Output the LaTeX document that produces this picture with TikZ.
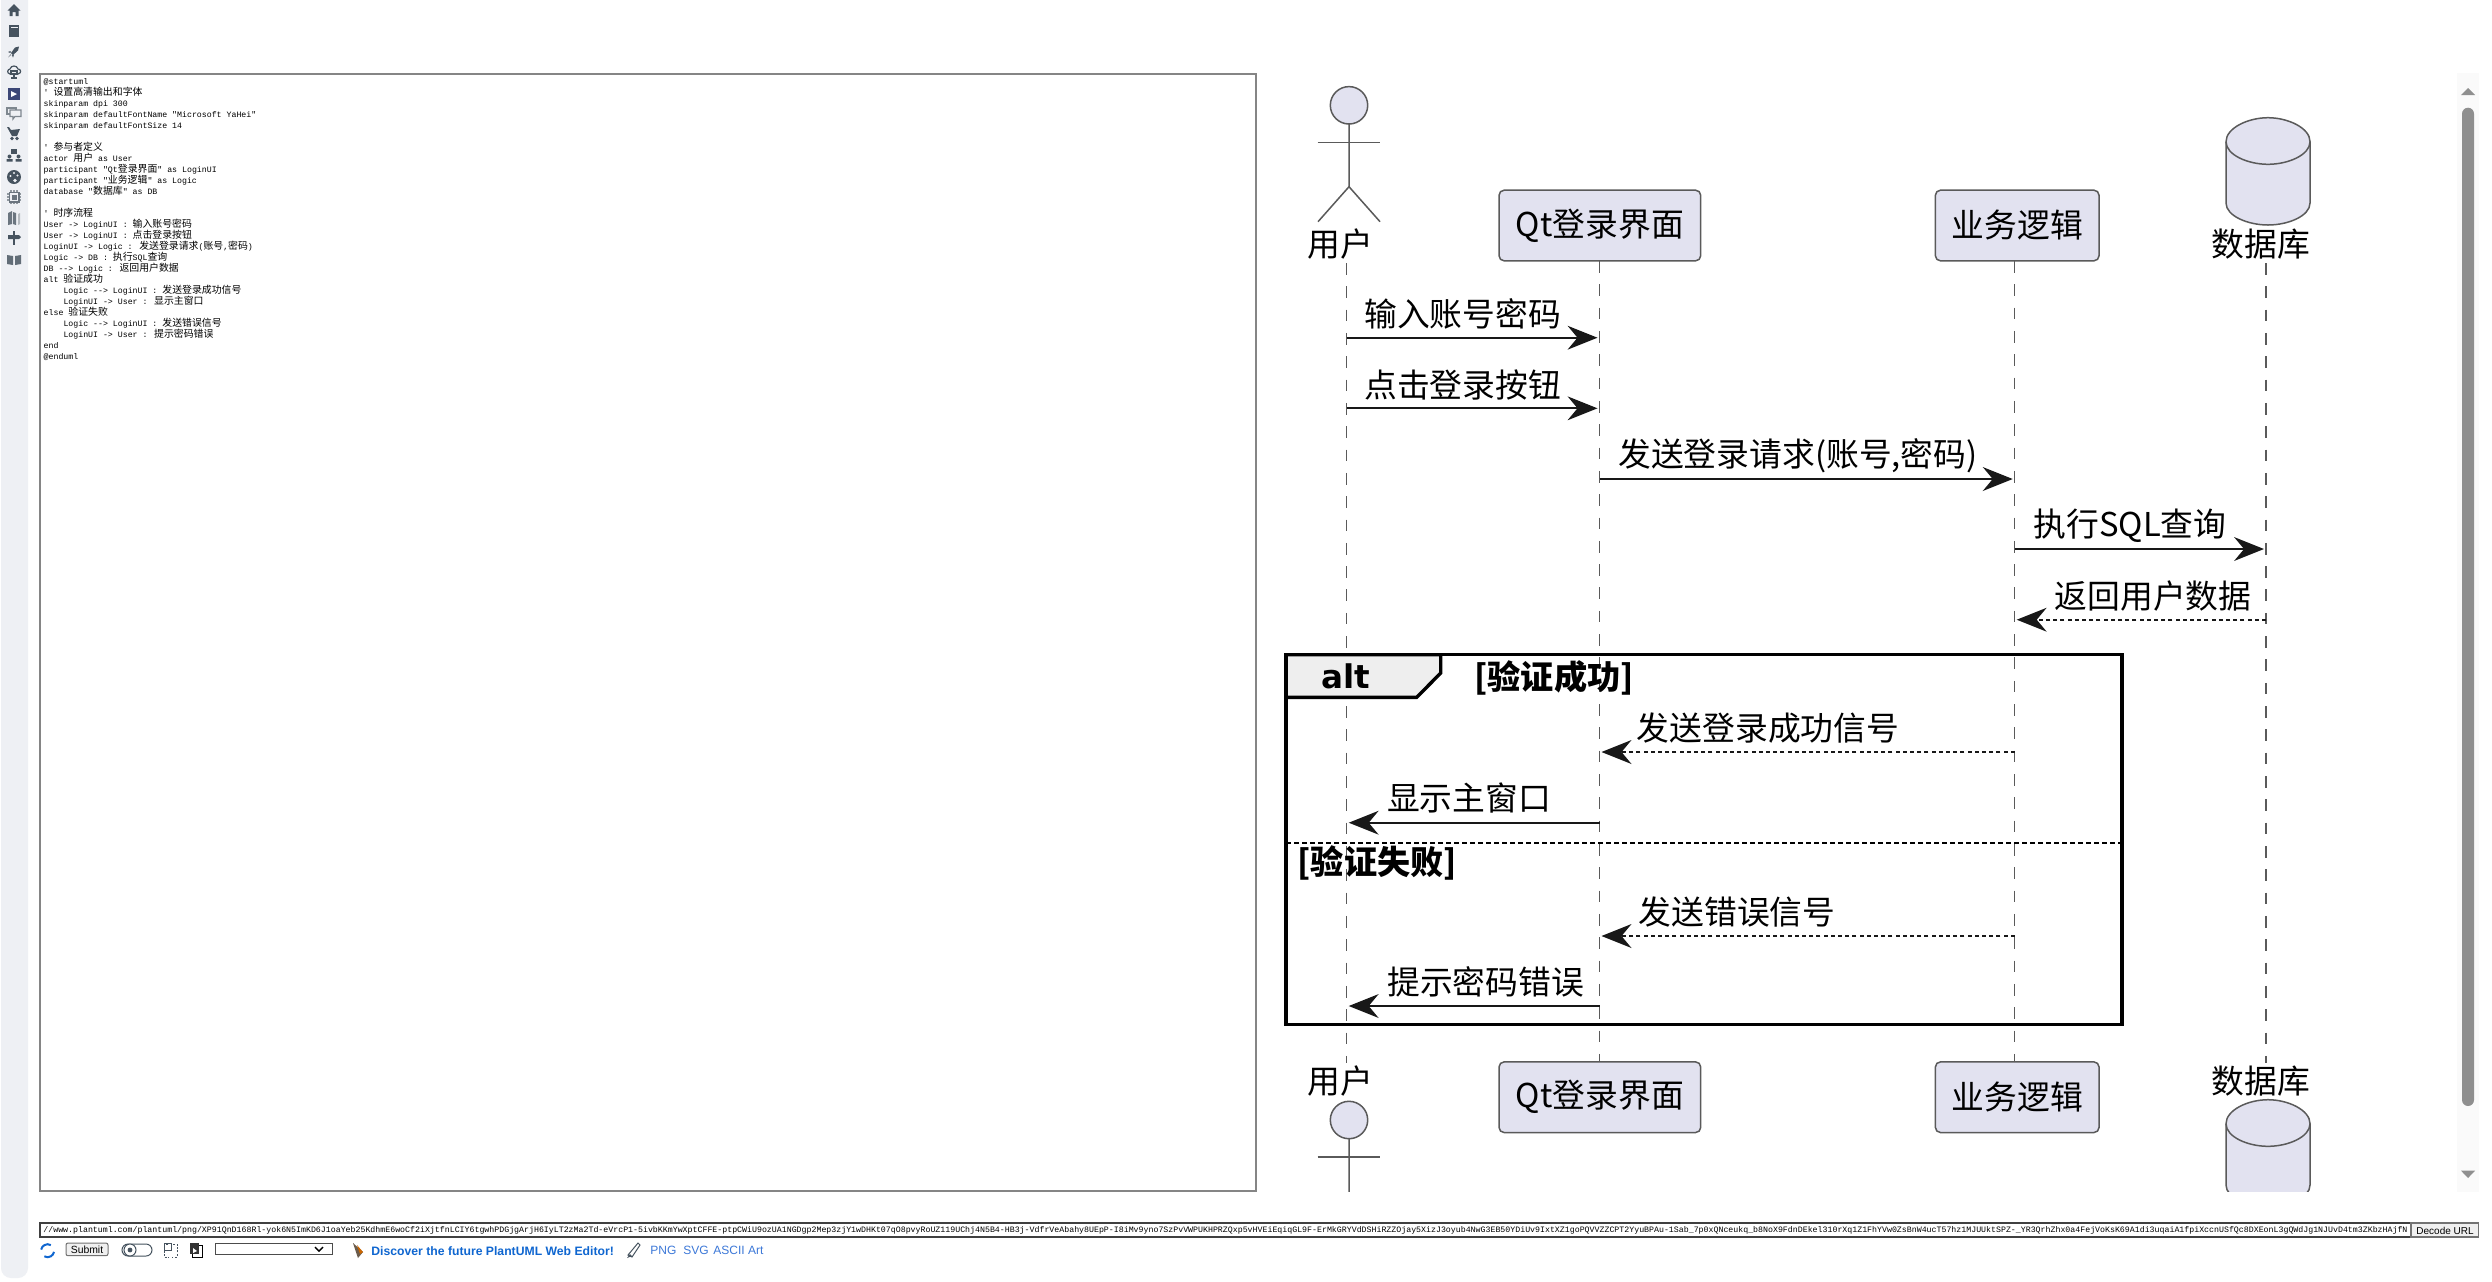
\documentclass[tikz,border=0pt]{standalone}
\usepackage{fontspec}
\usetikzlibrary{arrows.meta}
\setmainfont{Noto Sans CJK SC}
\newfontfamily\cjk{Noto Sans CJK SC}
\newfontfamily\dvb{DejaVu Sans Bold}
\newfontfamily\lmono{Liberation Mono}
\newfontfamily\lsans{Liberation Sans}
\newcommand{\zh}[1]{{\cjk\fontsize{4.94}{5.5}\selectfont #1}}
\newcommand{\ind}{\hspace*{9.9pt}}
\definecolor{partfill}{HTML}{E2E2F0}
\definecolor{ink}{HTML}{181818}
\definecolor{lifegrey}{HTML}{5A5A5A}
\definecolor{tabfill}{HTML}{EEEEEE}
\definecolor{sidebar}{HTML}{EEF0F4}
\definecolor{iconc}{HTML}{46535F}
\definecolor{linkblue}{HTML}{0F66D0}
\definecolor{linkblue2}{HTML}{3C78D8}
\tikzset{
  part/.style={draw=lifegrey,fill=partfill,line width=.75pt,rounded corners=2.5pt,minimum width=100.8pt,minimum height=35.3pt,inner sep=0pt,font=\fontsize{16.4}{18}\selectfont,text=black},
  plabel/.style={inner sep=0pt,font=\fontsize{16.4}{18}\selectfont,text=black},
  msgtxt/.style={inner sep=0pt,font=\fontsize{16.4}{18}\selectfont,text=black},
  grdtxt/.style={inner sep=0pt,font=\bfseries\fontsize{16.6}{18}\selectfont,text=black},
  lifeline/.style={draw=lifegrey,line width=.75pt,dash pattern=on 5.83pt off 5.83pt},
  msg/.style={draw=ink,line width=1pt,-{Stealth[length=15pt,width=12pt,inset=5pt,line width=0pt]},shorten >=1pt},
  msgd/.style={msg,dash pattern=on 2pt off 1.6pt},
  figure/.style={draw=lifegrey,line width=.75pt,fill=partfill},
  stick/.style={draw=lifegrey,line width=.75pt},
  frameline/.style={draw=black,line width=1.7pt},
  uitext/.style={inner sep=0pt,anchor=west,font=\lsans\fontsize{5.2}{6}\selectfont},
  icon/.style={fill=iconc,draw=none},
  iconl/.style={draw=iconc,line width=.6pt,fill=none},
}
\begin{document}
\begin{tikzpicture}[x=0.5pt,y=-0.5pt]
\useasboundingbox (0,0) rectangle (2492,1281);
\fill[white] (0,0) rectangle (2492,1281);

% ---- sidebar
\fill[sidebar,rounded corners=5pt] (1,-20) rectangle (28,1278);
\begin{scope}[shift={(14,10)}]
 \fill[icon] (-6.5,0.5)--(0,-6)--(6.5,0.5)--(4.5,0.5)--(4.5,6)--(1.5,6)--(1.5,2)--(-1.5,2)--(-1.5,6)--(-4.5,6)--(-4.5,0.5)--cycle;
\end{scope}
\begin{scope}[shift={(14,30.5)}]
 \fill[icon] (-5,-6) rectangle (5,6.5);
 \fill[sidebar] (-3.5,-3.5) rectangle (3.5,-2.5);
\end{scope}
\begin{scope}[shift={(14,52)}]
 \fill[icon] (5,-5.5)--(1,-4.5)--(-3,1)--(-1,3)--(4,-1.5)--cycle;
 \fill[icon] (-3.5,-1)--(-6,0)--(-3.5,1)--cycle (-2,3)--(-1,5.5)--(0,2.5)--cycle;
 \fill[iconc!60] (-6,5.5)--(-3.5,2)--(-2.5,3)--cycle;
\end{scope}
\begin{scope}[shift={(14,72)}]
 \draw[iconl] (-4,2) .. controls (-8,1) and (-6,-3) .. (-4,-3) .. controls (-3,-7) and (3,-7) .. (4,-3) .. controls (7,-3) and (8,1) .. (4,2) -- cycle;
 \draw[iconl] (-3,-1) rectangle (3,2);
 \draw[iconl] (0,3)--(0,5.5) (-3,6)--(3,6);
\end{scope}
\begin{scope}[shift={(14,94)}]
 \fill[fill=iconc!85!blue] (-6,-6) rectangle (6,6);
 \fill[white] (-3,-3)--(3,0)--(-3,3)--cycle;
\end{scope}
\begin{scope}[shift={(14,113)}]
 \draw[iconl,draw=iconc!70] (-7,-5) rectangle (2,1);
 \draw[iconl,draw=iconc!70,fill=sidebar] (-4,-3) -- (7,-3) -- (7,3.5) -- (1,3.5) -- (-1,6) -- (-1,3.5) -- (-4,3.5) -- cycle;
\end{scope}
\begin{scope}[shift={(14,133)}]
 \fill[icon] (-7,-6)--(-5,-6)--(-3,-3)--(6,-4)--(3,3)--(-2,3)--cycle;
 \fill[icon] (-2,5.5) circle[radius=.9pt] (3,5.5) circle[radius=.9pt];
\end{scope}
\begin{scope}[shift={(14,155)}]
 \fill[icon] (-3,-6) rectangle (3,-1.5);
 \fill[icon] (-4.5,1.5) circle[radius=1pt] (4.5,1.5) circle[radius=1pt];
 \fill[icon] (-7.5,6.5) rectangle (-1.5,4) (1.5,6.5) rectangle (7.5,4);
\end{scope}
\begin{scope}[shift={(14,177)}]
 \fill[icon] (0,0) circle[radius=3.5pt];
 \fill[sidebar] (-3.5,-1) circle[radius=.6pt] (0,-4) circle[radius=.6pt] (3.5,-1.5) circle[radius=.6pt] (1,3.5) circle[radius=.9pt];
\end{scope}
\begin{scope}[shift={(14,197)}]
 \draw[iconl,draw=iconc!60] (-3,-7)--(-3,7) (0,-7)--(0,7) (3,-7)--(3,7) (-7,-3)--(7,-3) (-7,0)--(7,0) (-7,3)--(7,3);
 \fill[iconc!80] (-5.5,-5.5) rectangle (5.5,5.5);
 \fill[sidebar] (-4,-4) rectangle (4,4);
 \fill[iconc!80] (-2.5,-2.5) rectangle (2.5,2.5);
\end{scope}
\begin{scope}[shift={(14,218)}]
 \fill[iconc!80] (-6,-5)--(-2,-7)--(-2,6)--(-6,7)--cycle;
 \fill[iconc!80] (-1,-6)--(2,-5)--(2,7)--(-1,6)--cycle;
 \fill[iconc!40] (4,-4)--(6,-5)--(6,6)--(4,7)--cycle;
\end{scope}
\begin{scope}[shift={(14,238)}]
 \fill[icon] (-1,-7) rectangle (1,7);
 \fill[icon] (-6,-3)--(5,-3)--(7,-1)--(5,1)--(-6,1)--cycle;
\end{scope}
\begin{scope}[shift={(14,260)}]
 \fill[iconc!85] (-7,-5)--(-1,-4)--(-1,5)--(-7,4)--cycle;
 \fill[iconc!85] (7,-5)--(1,-4)--(1,5)--(7,4)--cycle;
\end{scope}

% ---- source text panel
\draw[draw=black!48,fill=white,line width=1pt] (40.3,74.3) rectangle (1255.6,1191);
\node[anchor=north west,inner sep=0pt,align=left,text=black,font=\lmono\fontsize{4.12}{5.5}\selectfont] (code) at (43.3,78.5) {%
@startuml\\
' \zh{设置高清输出和字体}\\
skinparam dpi 300\\
skinparam defaultFontName "Microsoft YaHei"\\
skinparam defaultFontSize 14\\
\mbox{}\\
' \zh{参与者定义}\\
actor \zh{用户} as User\\
participant "Qt\zh{登录界面}" as LoginUI\\
participant "\zh{业务逻辑}" as Logic\\
database "\zh{数据库}" as DB\\
\mbox{}\\
' \zh{时序流程}\\
User -> LoginUI : \zh{输入账号密码}\\
User -> LoginUI : \zh{点击登录按钮}\\
LoginUI -> Logic : \zh{发送登录请求}(\zh{账号},\zh{密码})\\
Logic -> DB : \zh{执行}SQL\zh{查询}\\
DB --> Logic : \zh{返回用户数据}\\
alt \zh{验证成功}\\
\ind Logic --> LoginUI : \zh{发送登录成功信号}\\
\ind LoginUI -> User : \zh{显示主窗口}\\
else \zh{验证失败}\\
\ind Logic --> LoginUI : \zh{发送错误信号}\\
\ind LoginUI -> User : \zh{提示密码错误}\\
end\\
@enduml};

% ---- scrollbar
\fill[black!2] (2456.7,73.3) rectangle (2479,1191.7);
\fill[black!44,rounded corners=3pt] (2462,107.7) rectangle (2474,1106);
\fill[black!44] (2461,95)--(2468,88)--(2475,95)--cycle;
\fill[black!44] (2461,1170.7)--(2468,1178)--(2475,1170.7)--cycle;

% ---- sequence diagram
\begin{scope}
\clip (1262,60) rectangle (2450,1191.7);

\coordinate (uT) at (1346.7,263);  \coordinate (uB) at (1346.7,1063);
\coordinate (qT) at (1599.5,261);  \coordinate (qB) at (1599.5,1062);
\coordinate (lT) at (2014.7,261);  \coordinate (lB) at (2014.7,1062);
\coordinate (dT) at (2266,263);    \coordinate (dB) at (2266,1063);
\draw[lifeline] (uT) -- (uB);
\draw[lifeline] (qT) -- (qB);
\draw[lifeline] (lT) -- (lB);
\draw[lifeline] (dT) -- (dB);

% actor, top and bottom
\foreach \nm/\yy in {at/0,ab/1014.7}{
 \begin{scope}[yshift=-\yy*0.5pt]
  \draw[stick] (1349,124) -- (1349,186.7) -- (1318,221.7);
  \draw[stick] (1349,186.7) -- (1380,221.7);
  \draw[stick] (1317.7,142.3) -- (1380,142.3);
  \draw[figure] (1349,105.3) circle[radius=9.35pt];
 \end{scope}
}
\node[plabel] (userT) at (1340.7,244) {用户};
\node[plabel] (userB) at (1340.7,1081) {用户};

% database, top and bottom
\foreach \nm/\yy in {dt/0,db/982}{
 \begin{scope}[yshift=-\yy*0.5pt]
  \draw[figure] (2226,141.7) .. controls (2226,128) and (2248,117.7) .. (2268,117.7) .. controls (2288,117.7) and (2310,128) .. (2310,141.7) -- (2310,203) .. controls (2310,216) and (2288,225) .. (2268,225) .. controls (2248,225) and (2226,216) .. (2226,203) -- cycle;
  \draw[stick] (2226,141.7) .. controls (2226,155) and (2248,164.3) .. (2268,164.3) .. controls (2288,164.3) and (2310,155) .. (2310,141.7);
 \end{scope}
}
\node[plabel] (dbT) at (2261,244) {数据库};
\node[plabel] (dbB) at (2261,1081) {数据库};

% participants
\node[part] (qtT) at (1599.85,225.5) {Qt登录界面};
\node[part] (qtB) at (1599.85,1097.2) {Qt登录界面};
\node[part,minimum width=81.8pt] (logT) at (2017.2,225.5) {业务逻辑};
\node[part,minimum width=81.8pt] (logB) at (2017.2,1097.2) {业务逻辑};

% alt frame
\coordinate (fTL) at (1286,654.7);
\coordinate (fBR) at (2122,1024.7);
\coordinate (sL) at (1286,843.3);
\coordinate (sR) at (2122,843.3);
\filldraw[frameline,fill=tabfill] (fTL) -- (1440.7,654.7) -- (1440.7,673) -- (1416.7,697.3) -- (1286,697.3) -- cycle;
\draw[frameline] (fTL) rectangle (fBR);
\draw[draw=black,line width=1pt,dash pattern=on 2.4pt off 1.6pt] (sL) -- (sR);
\node[inner sep=0pt,font=\dvb\fontsize{16.3}{18}\selectfont] (altT) at (1345.7,676) {alt};
\node[grdtxt] (g1) at (1554,678) {[验证成功]};
\node[grdtxt] (g2) at (1377.3,862.7) {[验证失败]};

% messages
\foreach \n/\yy in {1/337.7,2/408.3,3/479,4/549,5/619.7,6/752,7/822.7,8/936,9/1006}{\coordinate (y\n) at (0,\yy);}
\draw[msg] (uT|-y1) -- (qT|-y1);
\draw[msg] (uT|-y2) -- (qT|-y2);
\draw[msg] (qT|-y3) -- (lT|-y3);
\draw[msg] (lT|-y4) -- (dT|-y4);
\draw[msgd] (dT|-y5) -- (lT|-y5);
\draw[msgd] (lT|-y6) -- (qT|-y6);
\draw[msg] (qT|-y7) -- (uT|-y7);
\draw[msgd] (lT|-y8) -- (qT|-y8);
\draw[msg] (qT|-y9) -- (uT|-y9);
\node[msgtxt] (t1) at (1462.7,314) {输入账号密码};
\node[msgtxt] (t2) at (1462.7,385) {点击登录按钮};
\node[msgtxt] (t3) at (1798,456) {发送登录请求(账号,密码)};
\node[msgtxt] (t4) at (2130,526) {执行SQL查询};
\node[msgtxt] (t5) at (2153,596.5) {返回用户数据};
\node[msgtxt] (t6) at (1768,727.7) {发送登录成功信号};
\node[msgtxt] (t7) at (1469,798) {显示主窗口};
\node[msgtxt] (t8) at (1737,912) {发送错误信号};
\node[msgtxt] (t9) at (1485.7,982) {提示密码错误};
\end{scope}

% ---- URL bar
\draw[draw=black!75,fill=white,line width=.7pt] (40,1223) rectangle (2411,1237);
\begin{scope}
\clip (41,1223) rectangle (2410,1237);
\node[inner sep=0pt,anchor=west,text=black,font=\lmono\fontsize{4.13}{5}\selectfont] (url) at (43,1230) {//www.plantuml.com/plantuml/png/XP91QnD168Rl-yok6N5ImKD6J1oaYeb25KdhmE6woCf2iXjtfnLCIY6tgwhPDGjgArjH6IyLT2zMa2Td-eVrcP1-5ivbKKmYwXptCFFE-ptpCWiU9ozUA1NGDgp2Mep3zjY1wDHKt07qO8pvyRoUZ119UChj4N5B4-HB3j-VdfrVeAbahy8UEpP-I8iMv9yno7SzPvVWPUKHPRZQxp5vHVEiEqiqGL9F-ErMkGRYVdDSHiRZZOjay5XizJ3oyub4NwG3EB50YDiUv9IxtXZ1goPQVVZZCPT2YyuBPAu-1Sab\_7p0xQNceukq\_b8NoX9FdnDEkel310rXq1Z1FhYVw0ZsBnW4ucT57hz1MJUUktSPZ-\_YR3QrhZhx0a4FejVoKsK69A1di3uqaiA1fpiXccnUSfQc8DXEonL3gQWdJg1NJUvD4tm3ZKbzHAjfN};
\end{scope}
\draw[draw=black!55,fill=black!6,line width=.6pt] (2411,1223) rectangle (2478.7,1237);
\node[uitext,anchor=center,font=\lsans\fontsize{5}{6}\selectfont] (dec) at (2445,1230.5) {Decode URL};

% ---- bottom toolbar
\draw[linkblue,line width=1pt] (47.6,1250.7) ++(60:3.25pt) arc (60:170:3.25pt);
\draw[linkblue,line width=1pt] (47.6,1250.7) ++(240:3.25pt) arc (240:350:3.25pt);
\draw[draw=black!55,fill=black!6,line width=.5pt,rounded corners=1pt] (66,1243) rectangle (108,1255.7);
\node[uitext,anchor=center] (sub) at (87,1249.6) {Submit};
\draw[iconc,line width=.5pt,rounded corners=3pt] (122,1244) rectangle (152,1256);
\draw[iconc,line width=.5pt,fill=white] (130,1250) circle[radius=3pt];
\fill[iconc] (130,1250) circle[radius=1.2pt];
\draw[iconc,line width=.5pt,dash pattern=on 1pt off .7pt] (164,1244) rectangle (177,1257);
\fill[white] (169,1243) rectangle (172,1258);
\draw[iconc,line width=.5pt] (164,1243.5) rectangle (171,1250);
\draw[draw=black,line width=.5pt,fill=white] (192,1245) rectangle (202,1257);
\fill[black!80] (189.5,1243) rectangle (199,1254);
\fill[white] (193,1248) -- (197,1251) -- (193,1253) -- cycle;
\draw[draw=black!70,fill=white,line width=.5pt] (215,1243) rectangle (332,1254);
\draw[black,line width=.7pt] (315,1247) -- (319,1251) -- (323,1247);
\fill[iconc!80!orange] (353,1243) -- (363,1252) -- (358,1258) -- cycle;
\fill[orange!80!black] (357,1245) -- (363,1252) -- (360,1254) -- cycle;
\node[uitext,text=linkblue,font=\lsans\bfseries\fontsize{6.1}{7}\selectfont] (disc) at (371,1250.7) {Discover the future PlantUML Web Editor!};
\draw[iconc,line width=.5pt,fill=white] (628,1255) -- (638,1243) -- (640,1245) -- (632,1257) -- cycle;
\fill[iconc] (627,1258) -- (630,1254) -- (632,1256) -- cycle;
\node[uitext,text=linkblue2,font=\lsans\fontsize{6}{7}\selectfont] (png) at (650,1250.7) {PNG};
\node[uitext,text=linkblue2,font=\lsans\fontsize{6}{7}\selectfont] (svg) at (683,1250.7) {SVG};
\node[uitext,text=linkblue2,font=\lsans\fontsize{6}{7}\selectfont] (asc) at (713,1250.7) {ASCII Art};
\end{tikzpicture}
\end{document}
